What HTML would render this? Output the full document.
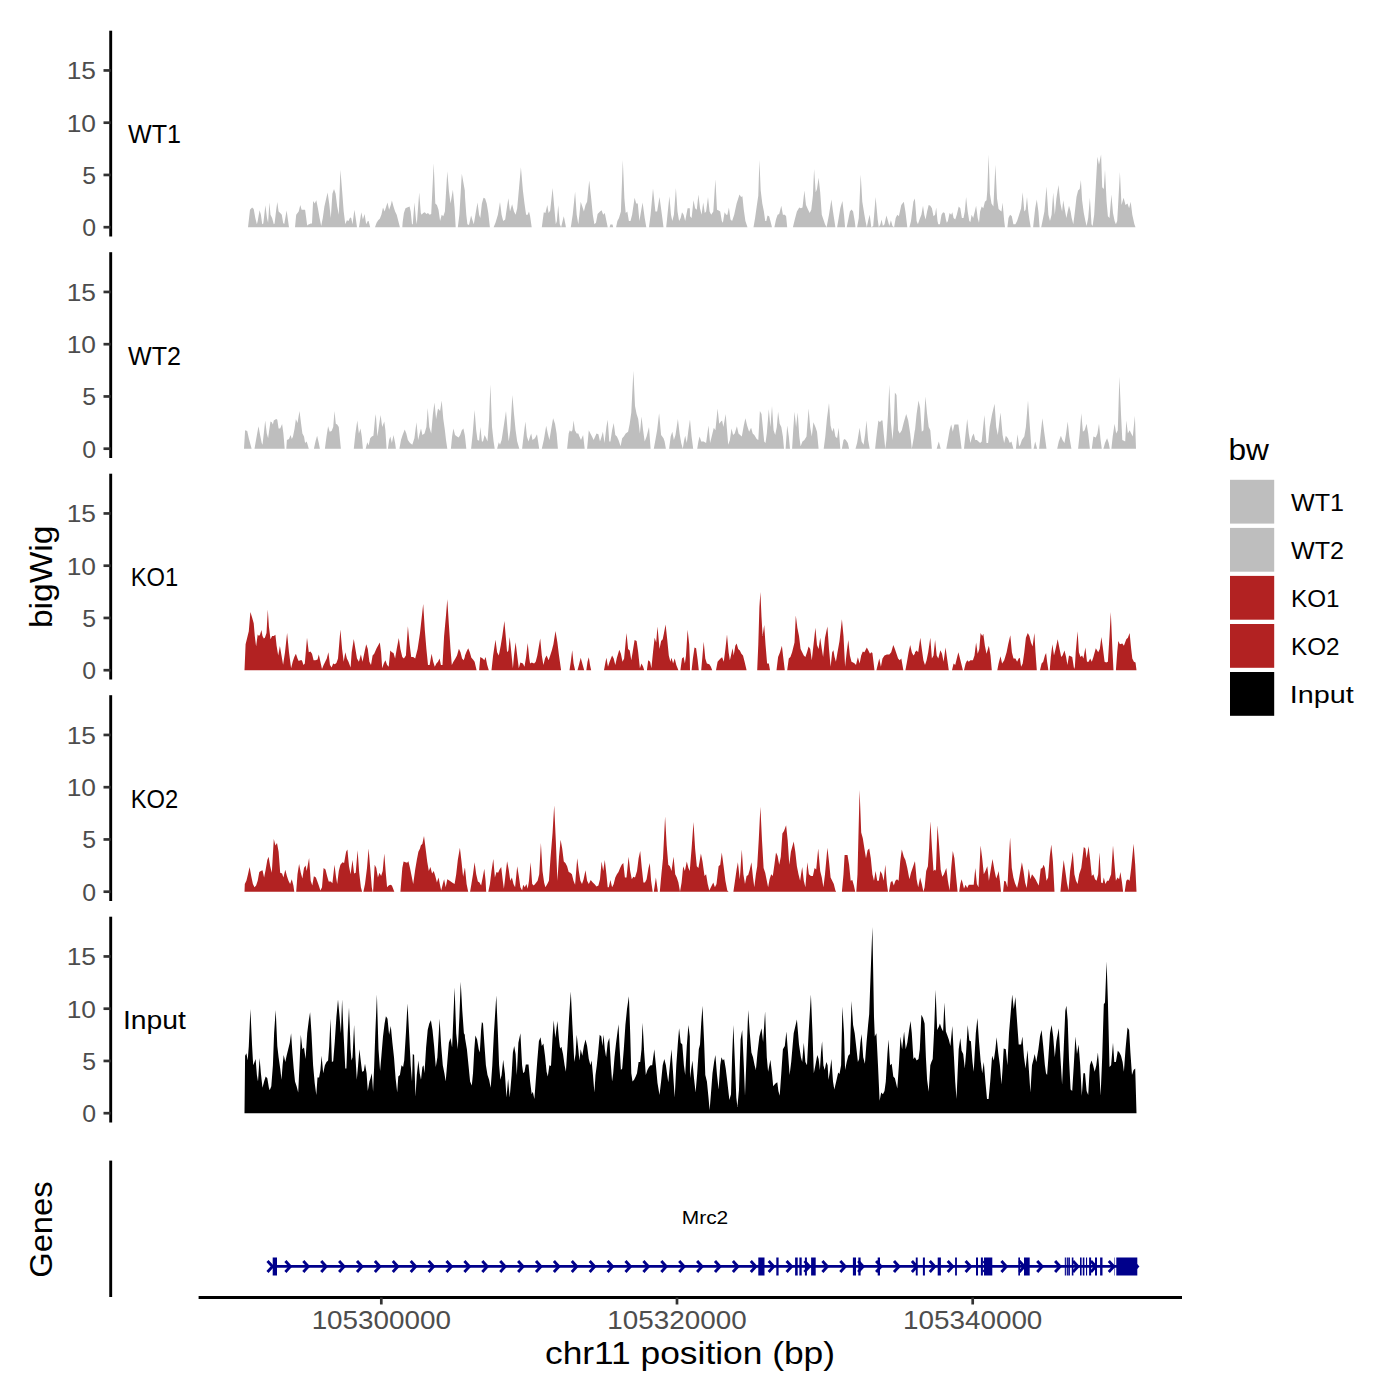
<!DOCTYPE html>
<html><head><meta charset="utf-8"><style>
html,body{margin:0;padding:0;background:#fff;width:1400px;height:1400px;overflow:hidden}
svg{display:block}
text{font-family:"Liberation Sans",sans-serif}
.tk{font-size:24.8px;fill:#4D4D4D}
.xt{font-size:25px;fill:#4D4D4D}
.lb{font-size:25px;fill:#000}
.at{font-size:31.5px;fill:#000}
.lt{font-size:30px;fill:#000}
.ll{font-size:24px;fill:#000}
.gn{font-size:18px;fill:#000}
</style></head><body>
<svg width="1400" height="1400" viewBox="0 0 1400 1400">
<rect width="1400" height="1400" fill="#fff"/>
<line x1="110.7" y1="30.7" x2="110.7" y2="236.5" stroke="#000" stroke-width="2.9"/>
<line x1="103.5" y1="227.20" x2="110.7" y2="227.20" stroke="#333" stroke-width="2.7"/>
<text x="96" y="236.00" class="tk" text-anchor="end">0</text>
<line x1="103.5" y1="174.95" x2="110.7" y2="174.95" stroke="#333" stroke-width="2.7"/>
<text x="96" y="183.75" class="tk" text-anchor="end">5</text>
<line x1="103.5" y1="122.70" x2="110.7" y2="122.70" stroke="#333" stroke-width="2.7"/>
<text x="96" y="131.50" class="tk" text-anchor="end" textLength="29.3" lengthAdjust="spacingAndGlyphs">10</text>
<line x1="103.5" y1="70.45" x2="110.7" y2="70.45" stroke="#333" stroke-width="2.7"/>
<text x="96" y="79.25" class="tk" text-anchor="end" textLength="29.3" lengthAdjust="spacingAndGlyphs">15</text>
<text x="154.5" y="143.00" class="lb" text-anchor="middle" textLength="53.0" lengthAdjust="spacingAndGlyphs">WT1</text>
<line x1="110.7" y1="252.2" x2="110.7" y2="458.0" stroke="#000" stroke-width="2.9"/>
<line x1="103.5" y1="448.70" x2="110.7" y2="448.70" stroke="#333" stroke-width="2.7"/>
<text x="96" y="457.50" class="tk" text-anchor="end">0</text>
<line x1="103.5" y1="396.45" x2="110.7" y2="396.45" stroke="#333" stroke-width="2.7"/>
<text x="96" y="405.25" class="tk" text-anchor="end">5</text>
<line x1="103.5" y1="344.20" x2="110.7" y2="344.20" stroke="#333" stroke-width="2.7"/>
<text x="96" y="353.00" class="tk" text-anchor="end" textLength="29.3" lengthAdjust="spacingAndGlyphs">10</text>
<line x1="103.5" y1="291.95" x2="110.7" y2="291.95" stroke="#333" stroke-width="2.7"/>
<text x="96" y="300.75" class="tk" text-anchor="end" textLength="29.3" lengthAdjust="spacingAndGlyphs">15</text>
<text x="154.5" y="364.50" class="lb" text-anchor="middle" textLength="53.0" lengthAdjust="spacingAndGlyphs">WT2</text>
<line x1="110.7" y1="473.7" x2="110.7" y2="679.5" stroke="#000" stroke-width="2.9"/>
<line x1="103.5" y1="670.20" x2="110.7" y2="670.20" stroke="#333" stroke-width="2.7"/>
<text x="96" y="679.00" class="tk" text-anchor="end">0</text>
<line x1="103.5" y1="617.95" x2="110.7" y2="617.95" stroke="#333" stroke-width="2.7"/>
<text x="96" y="626.75" class="tk" text-anchor="end">5</text>
<line x1="103.5" y1="565.70" x2="110.7" y2="565.70" stroke="#333" stroke-width="2.7"/>
<text x="96" y="574.50" class="tk" text-anchor="end" textLength="29.3" lengthAdjust="spacingAndGlyphs">10</text>
<line x1="103.5" y1="513.45" x2="110.7" y2="513.45" stroke="#333" stroke-width="2.7"/>
<text x="96" y="522.25" class="tk" text-anchor="end" textLength="29.3" lengthAdjust="spacingAndGlyphs">15</text>
<text x="154.5" y="586.00" class="lb" text-anchor="middle" textLength="47.5" lengthAdjust="spacingAndGlyphs">KO1</text>
<line x1="110.7" y1="695.2" x2="110.7" y2="901.0" stroke="#000" stroke-width="2.9"/>
<line x1="103.5" y1="891.70" x2="110.7" y2="891.70" stroke="#333" stroke-width="2.7"/>
<text x="96" y="900.50" class="tk" text-anchor="end">0</text>
<line x1="103.5" y1="839.45" x2="110.7" y2="839.45" stroke="#333" stroke-width="2.7"/>
<text x="96" y="848.25" class="tk" text-anchor="end">5</text>
<line x1="103.5" y1="787.20" x2="110.7" y2="787.20" stroke="#333" stroke-width="2.7"/>
<text x="96" y="796.00" class="tk" text-anchor="end" textLength="29.3" lengthAdjust="spacingAndGlyphs">10</text>
<line x1="103.5" y1="734.95" x2="110.7" y2="734.95" stroke="#333" stroke-width="2.7"/>
<text x="96" y="743.75" class="tk" text-anchor="end" textLength="29.3" lengthAdjust="spacingAndGlyphs">15</text>
<text x="154.5" y="807.50" class="lb" text-anchor="middle" textLength="47.5" lengthAdjust="spacingAndGlyphs">KO2</text>
<line x1="110.7" y1="916.7" x2="110.7" y2="1122.5" stroke="#000" stroke-width="2.9"/>
<line x1="103.5" y1="1113.20" x2="110.7" y2="1113.20" stroke="#333" stroke-width="2.7"/>
<text x="96" y="1122.00" class="tk" text-anchor="end">0</text>
<line x1="103.5" y1="1060.95" x2="110.7" y2="1060.95" stroke="#333" stroke-width="2.7"/>
<text x="96" y="1069.75" class="tk" text-anchor="end">5</text>
<line x1="103.5" y1="1008.70" x2="110.7" y2="1008.70" stroke="#333" stroke-width="2.7"/>
<text x="96" y="1017.50" class="tk" text-anchor="end" textLength="29.3" lengthAdjust="spacingAndGlyphs">10</text>
<line x1="103.5" y1="956.45" x2="110.7" y2="956.45" stroke="#333" stroke-width="2.7"/>
<text x="96" y="965.25" class="tk" text-anchor="end" textLength="29.3" lengthAdjust="spacingAndGlyphs">15</text>
<text x="154.5" y="1029.00" class="lb" text-anchor="middle" textLength="63.0" lengthAdjust="spacingAndGlyphs">Input</text>
<path d="M245.6,227.2 L245.6,227.2 L248.0,227.2 L250.0,209.8 L252.1,207.4 L253.7,209.0 L255.3,217.9 L256.9,224.3 L257.7,221.1 L259.6,210.2 L260.9,214.7 L262.2,224.3 L263.3,223.5 L265.4,205.3 L267.0,217.9 L268.1,222.7 L269.4,202.6 L270.5,214.7 L272.1,217.9 L273.8,224.3 L274.6,223.5 L276.2,209.8 L277.3,202.1 L278.6,211.4 L280.2,213.1 L281.8,214.7 L283.1,222.7 L284.2,224.3 L286.6,210.6 L287.9,219.5 L289.0,227.2 L295.0,227.2 L296.2,214.7 L298.7,211.4 L300.3,205.0 L301.6,209.8 L303.5,209.8 L305.1,209.8 L306.2,217.9 L307.2,225.9 L307.5,225.1 L310.7,223.5 L312.0,223.5 L313.1,201.0 L314.7,203.4 L316.3,200.2 L317.9,208.2 L319.6,217.9 L321.2,225.9 L322.8,217.9 L324.4,206.6 L327.6,192.5 L329.2,203.4 L330.8,217.9 L332.4,193.8 L334.0,188.9 L335.6,193.8 L337.2,206.6 L338.8,214.7 L340.4,169.7 L342.1,190.6 L343.7,211.4 L345.3,224.3 L346.9,220.3 L348.5,221.1 L350.1,217.6 L351.2,217.9 L352.5,224.3 L354.4,209.8 L355.7,217.9 L357.0,227.2 L358.9,227.2 L359.2,225.9 L361.3,212.3 L362.9,219.5 L364.6,213.9 L366.2,224.3 L367.8,221.1 L368.6,221.1 L370.2,227.2 L375.0,227.2 L376.6,222.7 L378.2,220.3 L379.8,218.7 L381.4,214.7 L383.0,207.4 L384.6,211.4 L386.2,206.6 L387.5,202.6 L389.1,209.8 L390.8,205.0 L391.9,200.5 L393.5,206.6 L395.1,211.4 L396.7,214.7 L398.3,221.1 L399.9,227.2 L402.3,227.2 L402.6,222.7 L403.9,213.1 L405.5,208.2 L407.1,207.4 L409.6,206.6 L410.7,211.4 L412.0,224.3 L412.8,224.3 L414.4,202.6 L416.0,219.5 L416.8,224.3 L419.2,192.5 L420.8,213.1 L421.6,214.7 L423.2,213.1 L424.8,212.3 L426.4,213.9 L428.0,213.1 L429.6,214.7 L431.2,213.9 L433.7,163.2 L435.3,203.4 L436.9,205.0 L438.5,209.8 L440.1,221.1 L441.7,214.7 L443.3,216.3 L444.9,211.4 L447.3,171.3 L448.9,190.6 L450.5,203.4 L452.9,189.8 L454.6,208.2 L455.7,227.2 L457.8,227.2 L459.4,214.7 L461.8,173.7 L464.8,190.6 L465.0,197.0 L466.3,214.7 L467.4,224.3 L469.0,225.1 L471.1,215.5 L472.7,221.1 L473.8,224.3 L475.4,214.7 L477.5,202.6 L479.1,214.7 L480.3,217.9 L481.9,203.4 L483.5,197.8 L485.1,198.6 L486.7,203.4 L488.3,213.1 L489.9,227.2 L493.6,227.2 L495.5,222.7 L497.9,214.7 L500.0,202.1 L501.6,214.7 L503.2,221.1 L505.2,219.5 L506.8,208.2 L508.4,198.3 L510.0,211.4 L512.1,204.2 L514.0,211.4 L515.6,214.7 L517.2,208.2 L518.8,190.6 L520.9,167.3 L522.9,190.6 L524.5,203.4 L526.1,214.7 L527.7,214.7 L529.0,211.4 L530.1,216.3 L531.7,227.2 L541.8,227.2 L543.8,212.3 L545.4,213.1 L547.3,205.0 L548.6,213.1 L550.2,210.6 L552.6,188.1 L554.2,206.6 L555.8,224.3 L556.9,221.1 L558.2,205.3 L559.8,224.3 L561.1,227.2 L562.2,222.7 L563.8,216.3 L565.4,224.3 L565.9,227.2 L570.8,227.2 L572.7,214.7 L575.1,191.8 L576.7,214.7 L578.3,224.3 L579.4,214.7 L580.7,201.8 L582.3,206.6 L583.9,211.4 L585.5,205.0 L587.1,201.8 L589.2,180.6 L591.2,198.6 L592.8,214.7 L594.4,224.3 L596.0,222.7 L597.6,213.9 L600.0,211.4 L601.6,210.2 L603.2,214.7 L604.8,213.1 L606.4,221.1 L607.7,227.2 L609.6,227.2 L610.4,224.6 L612.5,224.6 L613.2,227.2 L616.1,227.2 L617.4,221.1 L619.0,217.9 L620.9,211.4 L622.8,160.0 L624.4,198.6 L625.7,213.1 L627.3,211.4 L628.9,221.1 L630.5,221.1 L632.1,214.7 L634.6,197.8 L636.2,203.4 L637.8,203.4 L639.4,221.1 L641.0,211.4 L642.6,202.6 L644.7,217.9 L646.3,227.2 L649.0,227.2 L650.6,214.7 L653.0,188.6 L655.4,211.4 L657.1,211.4 L659.5,197.0 L661.9,214.7 L663.5,227.2 L666.2,227.2 L667.8,211.4 L669.4,196.2 L671.0,214.7 L672.3,221.1 L673.9,214.7 L675.9,188.1 L677.5,211.4 L679.1,221.1 L680.7,217.9 L682.0,212.3 L683.6,214.7 L685.2,221.1 L687.6,208.2 L689.8,208.2 L690.0,216.3 L691.6,217.9 L693.5,200.2 L695.1,208.2 L696.8,209.8 L698.4,194.6 L700.0,208.2 L701.6,214.7 L703.2,202.6 L704.8,213.1 L706.1,211.4 L708.0,197.0 L709.6,211.4 L711.2,214.7 L713.3,211.4 L715.4,179.3 L717.0,209.8 L718.6,210.6 L720.2,211.4 L721.8,221.1 L722.9,222.7 L724.6,212.3 L726.2,214.7 L727.4,214.7 L728.9,207.4 L730.5,219.5 L732.1,221.1 L734.2,214.7 L736.6,203.4 L739.5,194.6 L741.1,197.0 L742.4,196.2 L743.8,209.8 L745.4,221.1 L747.5,227.2 L753.5,227.2 L755.1,217.9 L756.7,206.6 L758.3,195.4 L759.4,160.0 L760.7,190.6 L762.3,203.4 L763.9,211.4 L765.2,221.1 L766.3,221.1 L767.5,215.5 L769.1,216.3 L770.4,221.1 L772.0,227.2 L774.4,227.2 L776.0,219.5 L777.6,214.7 L779.2,213.9 L781.3,205.8 L782.9,214.7 L784.8,214.7 L786.1,216.3 L787.2,227.2 L792.9,227.2 L794.8,219.5 L796.9,211.4 L799.3,207.4 L800.9,208.2 L802.5,207.4 L804.4,190.6 L806.0,205.0 L808.1,209.8 L809.7,213.1 L811.3,209.8 L812.9,195.4 L814.1,168.9 L815.7,192.2 L817.0,188.9 L818.6,177.7 L820.2,192.2 L821.8,214.7 L823.4,219.5 L825.0,224.3 L826.6,227.2 L829.0,214.7 L831.4,199.4 L833.0,211.4 L835.4,227.2 L837.1,227.2 L838.7,217.9 L840.3,208.2 L842.4,201.0 L844.0,214.7 L845.1,227.2 L846.7,227.2 L848.3,219.5 L849.9,211.4 L851.5,209.5 L853.1,211.4 L854.7,221.1 L855.5,227.2 L857.1,227.2 L858.8,217.9 L860.7,174.5 L862.3,201.8 L864.4,214.7 L865.5,221.1 L866.8,227.2 L868.1,221.1 L869.7,214.7 L871.3,227.2 L873.2,225.9 L875.6,197.0 L877.7,219.5 L878.8,227.2 L880.4,224.3 L881.6,219.5 L882.9,225.9 L884.5,224.3 L886.4,215.5 L888.0,221.1 L889.3,225.9 L890.9,220.3 L892.5,225.9 L894.1,227.2 L895.7,217.9 L897.3,214.7 L898.9,216.3 L901.3,205.0 L903.8,201.8 L905.4,211.4 L907.3,227.2 L909.4,227.2 L911.0,221.1 L913.4,201.8 L914.8,198.6 L915.0,200.2 L916.6,221.1 L917.9,224.3 L919.5,219.5 L921.4,214.7 L923.0,205.8 L924.3,214.7 L925.6,219.5 L927.1,211.4 L928.7,205.0 L930.3,205.8 L931.9,208.2 L933.5,216.3 L935.1,214.7 L936.2,207.4 L937.5,221.1 L938.3,224.3 L939.9,224.3 L941.5,214.7 L943.1,212.3 L944.7,213.1 L945.9,219.5 L946.8,222.7 L947.9,221.1 L949.6,213.1 L951.2,214.7 L952.3,212.3 L953.6,217.9 L955.2,219.5 L956.8,214.7 L958.7,206.6 L960.3,208.2 L961.9,217.9 L963.5,217.9 L964.8,211.4 L966.1,197.0 L967.7,211.4 L969.3,221.1 L970.4,221.9 L971.6,214.7 L973.2,217.9 L974.8,211.4 L976.1,205.8 L977.7,217.9 L979.0,222.7 L980.1,211.4 L981.7,206.6 L983.3,208.2 L984.9,201.8 L986.5,200.2 L987.3,190.6 L988.6,154.4 L989.9,193.8 L991.5,203.4 L993.4,206.6 L995.4,164.8 L997.0,198.6 L998.6,209.0 L1000.2,210.6 L1001.5,211.4 L1002.6,202.6 L1004.2,221.1 L1005.0,227.2 L1007.4,227.2 L1008.5,217.9 L1010.1,214.7 L1011.8,216.3 L1013.4,224.3 L1015.4,224.3 L1017.1,221.1 L1019.1,214.7 L1021.1,208.2 L1022.7,192.2 L1024.3,211.4 L1025.6,209.8 L1027.0,197.0 L1028.3,211.4 L1029.4,219.5 L1030.7,227.2 L1033.1,227.2 L1035.2,208.2 L1036.8,199.4 L1038.4,211.4 L1039.6,227.2 L1041.2,227.2 L1042.8,219.5 L1044.4,211.4 L1046.5,186.5 L1048.4,214.7 L1050.0,221.1 L1051.6,214.7 L1053.2,192.5 L1054.8,214.7 L1056.4,198.6 L1058.5,184.9 L1060.4,203.4 L1062.1,211.4 L1063.2,200.2 L1064.8,209.8 L1066.4,217.9 L1067.7,211.4 L1069.0,205.8 L1070.6,211.4 L1071.7,217.9 L1073.3,224.3 L1074.9,211.4 L1076.5,197.0 L1078.1,190.6 L1079.7,188.9 L1080.9,180.1 L1082.1,200.2 L1083.8,213.1 L1085.4,221.1 L1086.6,225.9 L1088.2,217.9 L1089.9,197.8 L1091.5,224.3 L1092.6,225.9 L1094.2,214.7 L1095.8,185.7 L1097.4,156.8 L1099.0,164.8 L1101.1,154.4 L1102.2,187.3 L1103.8,188.9 L1105.0,169.7 L1106.6,201.8 L1107.9,216.3 L1109.5,217.9 L1111.4,194.6 L1113.0,213.1 L1114.6,221.1 L1115.9,224.3 L1117.2,221.1 L1118.3,201.8 L1119.9,172.1 L1121.5,205.0 L1123.6,197.8 L1125.5,205.0 L1127.5,203.4 L1129.1,208.2 L1130.7,201.8 L1132.3,214.7 L1134.4,224.3 L1135.5,227.2 L1135.5,227.2 Z" fill="#BEBEBE"/>
<path d="M244.0,448.7 L244.0,448.7 L245.1,430.2 L247.2,431.0 L248.8,438.3 L251.6,448.7 L254.5,448.7 L256.9,435.0 L258.5,426.2 L260.1,435.0 L261.7,443.1 L262.5,444.7 L263.8,433.4 L265.2,420.6 L266.8,433.4 L268.1,438.3 L269.2,430.2 L270.5,421.4 L271.8,422.2 L272.9,424.6 L273.8,420.6 L275.0,419.8 L276.2,419.0 L277.3,419.8 L278.6,428.6 L280.2,428.6 L282.1,424.1 L283.4,433.4 L284.7,448.7 L286.3,448.7 L286.9,439.9 L289.0,439.1 L290.6,435.0 L291.8,439.1 L293.0,436.6 L294.6,428.6 L295.9,419.0 L297.5,423.0 L299.5,410.9 L301.1,423.8 L302.4,433.4 L304.0,436.6 L305.1,443.1 L306.7,441.5 L308.8,448.7 L313.9,448.7 L315.5,441.5 L317.1,435.8 L318.8,443.1 L319.9,448.7 L324.9,448.7 L326.5,436.6 L328.1,426.2 L329.7,431.8 L331.6,431.0 L333.2,427.0 L334.5,410.9 L335.8,423.8 L337.2,424.6 L338.8,427.0 L340.0,439.9 L340.9,448.7 L353.8,448.7 L355.4,433.4 L357.3,420.6 L358.9,433.4 L360.5,428.6 L361.8,436.6 L362.9,448.7 L365.7,448.7 L367.3,442.3 L368.6,445.5 L370.2,438.3 L371.8,436.6 L373.4,435.8 L375.0,419.0 L375.8,414.1 L377.4,436.6 L379.0,425.4 L380.6,414.9 L382.2,427.0 L384.3,421.4 L385.4,430.2 L386.6,448.7 L387.9,448.7 L389.1,439.9 L390.3,436.6 L391.9,443.1 L393.5,435.0 L395.1,443.1 L395.9,448.7 L399.4,448.7 L401.0,439.9 L402.6,435.0 L404.7,429.4 L406.3,433.4 L407.9,439.9 L410.0,443.1 L412.3,444.7 L414.4,438.3 L416.5,422.2 L418.1,439.9 L419.7,433.4 L421.0,428.6 L422.4,435.0 L424.5,433.4 L426.4,427.0 L427.7,408.0 L429.3,427.0 L431.2,433.4 L432.9,414.1 L434.5,402.6 L436.1,419.0 L438.0,408.5 L440.1,410.9 L441.7,400.5 L443.3,419.0 L444.9,430.2 L446.0,439.9 L447.3,448.7 L450.9,448.7 L452.1,436.6 L453.4,428.6 L455.0,435.0 L457.0,436.6 L458.6,437.4 L460.2,435.0 L461.8,430.2 L463.4,428.6 L464.8,435.0 L465.0,436.6 L466.3,448.7 L471.1,448.7 L472.7,433.4 L474.6,410.1 L476.2,430.2 L477.5,439.9 L479.1,440.7 L480.4,427.0 L481.9,441.5 L483.0,441.5 L484.6,435.0 L486.2,438.3 L487.5,441.5 L489.1,419.0 L490.4,384.4 L492.0,427.0 L493.6,441.5 L494.7,448.7 L497.1,448.7 L498.8,442.3 L500.0,444.7 L501.6,439.9 L503.6,427.0 L506.0,410.9 L507.6,430.2 L508.7,441.5 L510.3,430.2 L512.4,394.9 L514.0,414.1 L515.6,430.2 L517.2,441.5 L519.3,448.7 L522.1,448.7 L523.7,435.0 L525.4,421.4 L526.9,436.6 L528.5,441.5 L530.1,436.6 L531.2,433.4 L532.5,439.9 L534.9,438.3 L537.0,434.2 L538.1,441.5 L539.2,448.7 L541.8,448.7 L543.8,439.9 L546.2,425.7 L547.8,433.4 L549.4,439.9 L551.0,430.2 L553.1,418.2 L555.0,423.8 L556.6,433.4 L557.9,448.7 L567.1,448.7 L568.7,433.4 L569.8,430.2 L571.1,431.8 L572.4,430.2 L573.6,420.6 L574.9,430.2 L576.7,433.4 L578.3,433.4 L579.4,436.6 L581.0,439.9 L583.1,435.0 L584.7,448.7 L587.1,448.7 L588.8,430.2 L590.4,433.4 L592.0,436.6 L593.6,439.9 L595.2,436.6 L596.5,433.4 L598.4,434.2 L600.0,441.5 L601.6,436.6 L602.9,431.8 L604.5,443.1 L606.4,427.0 L607.7,419.8 L609.3,441.5 L610.4,441.5 L612.1,430.2 L613.7,423.0 L615.3,435.0 L616.9,436.6 L618.5,439.9 L620.6,446.3 L622.2,438.3 L623.8,436.6 L625.7,433.4 L628.1,431.8 L629.7,423.8 L631.3,412.5 L633.4,370.8 L635.0,406.1 L636.6,414.1 L638.2,419.0 L639.9,433.4 L641.5,416.6 L643.1,430.2 L644.7,441.5 L646.6,436.6 L649.0,427.0 L650.6,448.7 L653.8,448.7 L655.4,439.9 L657.1,430.2 L659.1,413.3 L661.1,435.0 L663.5,438.3 L664.6,441.5 L665.9,448.7 L669.1,448.7 L670.7,436.6 L672.3,431.8 L673.9,439.9 L675.5,435.0 L677.9,419.0 L679.6,433.4 L681.2,443.1 L682.8,448.7 L683.9,441.5 L685.2,435.8 L686.8,443.1 L688.4,430.2 L689.8,420.6 L690.0,419.8 L691.6,436.6 L693.2,448.7 L697.2,448.7 L698.4,441.5 L699.6,436.6 L701.2,441.5 L703.7,441.5 L706.1,443.1 L708.5,425.4 L710.1,443.1 L711.7,436.6 L713.8,427.8 L715.4,430.2 L717.6,408.5 L719.2,423.8 L720.9,421.4 L722.1,420.6 L723.4,427.0 L725.7,414.1 L727.3,433.4 L728.2,444.7 L729.9,439.9 L731.5,428.6 L733.1,435.0 L734.7,433.4 L736.9,426.2 L738.5,433.4 L740.1,435.0 L741.8,436.6 L743.8,425.4 L745.4,418.2 L747.1,425.4 L749.1,431.8 L751.1,427.8 L752.7,433.4 L754.3,435.0 L756.7,439.1 L758.3,439.9 L759.9,410.9 L761.5,414.1 L763.1,430.2 L764.2,441.5 L765.5,443.1 L766.8,433.4 L768.8,409.3 L770.4,427.0 L772.0,406.1 L773.6,430.2 L775.2,435.0 L776.8,427.0 L778.1,411.7 L779.7,423.8 L781.3,427.0 L782.9,436.6 L784.0,448.7 L785.6,448.7 L787.2,425.4 L788.8,436.6 L790.0,448.7 L792.1,448.7 L793.2,430.2 L794.5,411.7 L796.1,427.0 L797.7,412.5 L799.3,436.6 L800.6,446.3 L802.5,441.5 L804.4,439.9 L806.5,436.6 L808.6,408.5 L810.2,427.0 L811.8,436.6 L813.4,422.2 L815.4,427.0 L817.0,431.8 L818.6,448.7 L823.7,448.7 L825.3,436.6 L826.9,419.0 L829.0,402.9 L830.6,425.4 L832.2,431.8 L833.8,427.8 L835.4,436.6 L837.1,438.3 L838.7,427.8 L840.3,448.7 L841.9,448.7 L843.5,439.9 L844.6,439.1 L845.9,439.9 L847.8,443.1 L849.1,448.7 L855.5,448.7 L857.1,443.1 L859.6,427.8 L861.6,441.5 L863.6,444.7 L865.2,433.4 L866.5,420.6 L868.1,439.9 L869.7,448.7 L875.1,448.7 L876.8,433.4 L878.4,420.6 L880.0,422.2 L881.2,420.6 L882.5,420.6 L883.7,433.4 L885.3,448.7 L886.4,439.9 L888.0,414.1 L889.3,384.4 L890.9,422.2 L892.5,439.9 L893.8,423.8 L894.9,392.4 L896.5,394.9 L898.1,430.2 L899.7,433.4 L901.8,430.2 L903.8,422.2 L906.2,414.1 L908.2,420.6 L910.2,433.4 L911.8,448.7 L913.7,438.3 L914.8,430.2 L915.0,430.2 L916.6,414.1 L918.5,400.5 L920.1,407.7 L921.8,431.8 L923.4,430.2 L925.4,396.5 L927.1,414.1 L928.7,427.0 L930.3,430.2 L931.9,448.7 L936.7,448.7 L938.8,441.5 L940.7,448.7 L946.3,448.7 L947.9,439.9 L949.6,430.2 L951.2,424.6 L952.8,431.8 L954.4,424.6 L958.4,424.6 L960.0,436.6 L961.6,448.7 L964.0,448.7 L965.6,433.4 L967.2,419.0 L968.8,433.4 L970.4,443.1 L972.1,436.6 L973.7,433.4 L975.3,439.9 L976.9,439.9 L978.5,441.5 L980.1,443.1 L981.7,441.5 L984.4,414.9 L986.5,443.1 L988.1,443.1 L989.7,427.0 L992.1,414.1 L994.6,403.7 L996.2,427.0 L997.8,435.0 L1000.5,412.5 L1002.6,435.0 L1004.2,443.1 L1005.8,435.8 L1007.9,438.3 L1009.8,443.1 L1011.4,441.5 L1013.4,448.7 L1015.9,448.7 L1017.5,434.2 L1019.1,446.3 L1020.3,444.7 L1021.9,439.9 L1024.3,436.6 L1025.9,427.0 L1028.0,400.5 L1029.9,427.0 L1031.5,448.7 L1033.6,448.7 L1035.2,441.5 L1037.1,448.7 L1039.1,448.7 L1040.7,433.4 L1042.4,418.2 L1044.4,433.4 L1046.5,448.7 L1057.2,448.7 L1058.8,441.5 L1060.9,435.8 L1062.5,439.9 L1064.5,443.1 L1066.1,433.4 L1067.7,421.4 L1069.3,436.6 L1071.4,448.7 L1078.1,448.7 L1079.7,433.4 L1081.3,413.3 L1082.9,431.8 L1084.6,430.2 L1086.6,423.8 L1088.2,433.4 L1089.9,448.7 L1091.8,448.7 L1093.4,436.6 L1095.8,437.4 L1097.4,433.4 L1099.0,423.8 L1100.6,439.9 L1101.8,448.7 L1103.4,448.7 L1105.0,443.1 L1107.1,438.3 L1108.7,443.1 L1109.8,448.7 L1111.4,448.7 L1112.7,436.6 L1114.6,423.8 L1116.2,433.4 L1117.8,430.2 L1119.4,376.4 L1121.0,414.1 L1122.3,439.9 L1123.9,440.7 L1125.2,441.5 L1126.3,420.6 L1127.9,433.4 L1129.6,430.2 L1131.2,433.4 L1132.8,436.6 L1134.9,415.8 L1136.0,448.7 L1136.0,448.7 Z" fill="#BEBEBE"/>
<path d="M244.5,670.2 L244.5,670.2 L245.6,644.2 L247.2,637.7 L248.8,631.3 L250.4,612.0 L252.1,617.6 L253.7,623.3 L254.8,636.1 L256.1,646.6 L257.7,634.5 L259.0,636.1 L260.1,634.5 L261.4,630.0 L262.5,636.1 L263.8,638.5 L264.9,637.7 L266.5,632.9 L267.8,609.6 L268.9,626.5 L270.5,639.3 L272.1,636.1 L273.8,636.1 L275.4,634.8 L276.6,645.8 L278.2,655.4 L279.9,646.1 L281.5,655.4 L283.1,664.7 L285.0,652.2 L287.1,632.9 L289.0,652.2 L291.1,668.3 L292.7,661.8 L294.3,657.0 L295.9,653.8 L297.5,658.6 L298.7,661.0 L300.3,660.2 L301.9,660.2 L303.5,665.1 L304.8,663.5 L307.0,637.7 L308.8,652.2 L310.4,651.4 L312.0,653.8 L313.6,660.2 L315.5,660.2 L317.5,659.4 L318.8,654.6 L320.4,661.8 L322.0,669.1 L323.6,665.1 L325.2,661.8 L326.8,658.6 L328.4,652.2 L330.0,665.1 L331.6,667.5 L333.2,663.5 L334.8,664.3 L336.4,663.1 L338.0,658.6 L340.4,629.4 L342.1,649.0 L343.7,661.8 L345.3,652.2 L346.9,658.6 L348.5,661.8 L350.6,667.5 L351.7,652.2 L353.8,639.0 L355.4,649.0 L357.0,658.6 L358.9,661.8 L360.9,654.6 L362.5,661.8 L363.8,655.4 L366.2,644.2 L367.8,649.0 L369.4,661.8 L371.0,665.1 L372.6,655.4 L374.2,653.8 L376.6,648.2 L379.8,642.6 L381.1,652.2 L382.2,668.3 L383.8,663.5 L385.4,660.2 L387.1,665.1 L388.7,666.7 L390.3,650.6 L391.9,652.2 L393.5,653.0 L395.1,658.6 L396.7,649.0 L398.8,638.1 L400.4,649.0 L402.3,657.0 L403.9,658.6 L405.9,655.4 L407.9,626.2 L409.6,644.2 L411.2,657.0 L413.2,657.0 L415.2,658.6 L417.6,649.0 L420.0,632.9 L423.2,604.0 L424.8,629.7 L426.4,649.0 L428.0,665.1 L429.6,665.1 L431.6,653.8 L433.2,661.8 L434.8,666.7 L436.4,663.5 L438.0,661.8 L439.6,658.6 L440.9,665.1 L442.5,665.1 L444.1,636.1 L446.0,615.2 L447.3,599.2 L448.9,624.9 L450.5,649.0 L451.8,665.1 L453.4,661.8 L455.4,658.6 L457.0,655.4 L458.9,648.7 L460.5,652.2 L462.1,658.6 L463.7,660.2 L464.8,657.0 L465.0,655.4 L466.6,651.4 L468.2,648.2 L469.8,652.2 L471.4,657.8 L473.0,659.4 L474.6,661.8 L476.6,670.2 L479.1,670.2 L480.3,657.0 L482.7,658.6 L484.3,660.2 L485.6,657.0 L487.2,665.1 L488.8,670.2 L491.5,670.2 L493.1,655.4 L495.5,639.7 L497.1,652.2 L498.8,655.4 L500.7,645.8 L502.3,636.1 L504.4,620.9 L506.0,639.3 L507.1,652.2 L508.4,650.6 L509.7,636.9 L511.3,652.2 L512.9,668.3 L514.0,655.4 L515.6,642.2 L517.2,655.4 L518.8,668.3 L520.4,662.6 L522.9,663.5 L524.5,666.7 L526.1,657.0 L527.7,642.9 L529.3,658.6 L530.1,663.5 L531.7,662.6 L534.1,663.5 L535.7,661.8 L537.3,655.4 L540.2,638.5 L541.8,655.4 L543.4,665.1 L545.0,658.6 L546.6,655.4 L548.6,660.2 L550.2,655.4 L551.8,650.6 L553.4,644.2 L555.5,631.0 L557.4,642.6 L559.0,655.4 L561.1,670.2 L569.5,670.2 L570.8,661.8 L572.2,650.3 L573.6,663.5 L575.1,670.2 L577.5,670.2 L579.1,664.3 L580.7,657.8 L582.3,663.5 L584.2,670.2 L586.3,670.2 L587.5,661.8 L588.8,657.3 L590.0,665.1 L591.2,670.2 L604.0,670.2 L605.1,664.3 L606.4,657.8 L608.0,666.7 L609.6,661.8 L612.1,655.4 L613.7,658.6 L615.3,665.1 L616.9,657.8 L619.3,649.8 L620.9,653.8 L622.5,661.8 L624.1,658.6 L626.5,632.9 L628.1,649.0 L629.7,650.6 L631.3,660.2 L632.9,650.6 L634.6,640.1 L636.6,641.0 L638.2,652.2 L639.9,668.3 L641.5,663.5 L643.1,666.7 L644.2,670.2 L646.9,670.2 L648.2,660.2 L650.1,661.8 L651.4,668.3 L653.0,652.2 L654.6,637.7 L656.2,642.6 L657.5,626.5 L659.5,649.0 L661.1,641.0 L662.7,639.3 L664.0,632.9 L665.6,624.6 L667.2,639.3 L668.8,655.4 L670.4,661.8 L671.5,657.8 L673.1,663.5 L674.7,658.6 L676.3,665.1 L678.4,670.2 L680.4,670.2 L682.0,658.6 L683.6,657.0 L684.9,663.5 L686.0,655.4 L687.6,629.7 L689.2,644.2 L689.8,658.6 L690.0,670.2 L690.0,670.2 L691.6,670.2 L692.9,658.6 L694.5,647.4 L696.1,648.2 L697.7,660.2 L698.8,670.2 L701.2,670.2 L702.5,655.4 L703.7,641.8 L705.3,658.6 L706.9,663.5 L709.3,664.3 L710.9,666.7 L712.2,670.2 L716.0,670.2 L717.6,661.8 L718.9,660.2 L720.5,658.6 L722.1,657.3 L723.8,661.8 L725.4,649.0 L727.0,634.5 L728.6,652.2 L729.9,660.2 L731.0,655.4 L732.6,648.2 L733.7,655.4 L735.3,645.8 L736.6,643.4 L738.2,649.0 L739.8,650.6 L741.4,653.8 L743.0,655.4 L744.6,661.8 L746.6,670.2 L757.2,670.2 L758.3,644.2 L759.4,607.2 L760.4,591.9 L761.5,616.8 L762.6,636.1 L764.2,624.9 L765.5,644.2 L767.1,663.5 L768.8,663.5 L770.0,670.2 L776.5,670.2 L778.1,657.0 L780.0,652.2 L781.9,645.8 L783.2,657.0 L784.8,670.2 L787.2,670.2 L788.8,658.6 L790.4,657.0 L792.1,652.2 L794.5,642.6 L795.8,615.6 L797.4,628.1 L799.0,636.1 L800.6,649.0 L802.2,652.2 L803.8,655.4 L805.4,657.0 L807.0,652.2 L808.6,646.6 L810.2,649.0 L811.8,660.2 L813.4,645.8 L815.4,627.8 L817.0,645.0 L818.6,649.0 L820.2,637.7 L821.8,649.0 L823.1,657.0 L825.0,637.7 L827.4,626.5 L829.0,649.0 L830.6,666.7 L832.2,652.2 L833.4,650.3 L834.6,657.0 L835.9,661.8 L837.5,652.2 L839.5,641.0 L841.9,619.3 L843.5,636.1 L845.1,666.7 L846.7,652.2 L848.3,640.1 L849.9,655.4 L851.5,661.8 L853.1,662.6 L854.7,663.5 L856.0,665.1 L857.1,660.2 L857.9,657.3 L859.6,663.5 L861.2,655.4 L862.8,651.4 L864.4,652.2 L866.8,647.4 L868.4,650.6 L870.0,653.8 L871.3,652.2 L872.4,653.0 L874.5,670.2 L876.4,670.2 L878.0,663.5 L879.3,658.6 L880.9,666.7 L882.5,658.6 L884.5,655.4 L886.9,654.6 L889.3,654.6 L891.2,652.2 L893.3,645.0 L894.9,649.0 L896.5,653.8 L898.1,658.6 L899.7,660.2 L901.3,658.6 L903.4,670.2 L905.4,670.2 L907.0,661.8 L908.6,652.2 L910.2,645.0 L911.8,652.2 L913.4,655.4 L914.8,653.8 L915.0,652.2 L916.6,650.6 L918.2,652.2 L920.3,637.7 L921.8,649.0 L923.4,660.2 L925.0,665.1 L926.6,660.2 L928.2,652.2 L930.3,637.7 L931.9,658.6 L933.5,655.4 L935.1,640.1 L936.7,655.4 L938.3,658.6 L940.4,650.3 L942.0,653.8 L943.6,661.8 L945.5,647.4 L947.1,658.6 L948.8,670.2 L952.0,670.2 L953.6,663.5 L955.2,665.1 L956.8,658.6 L958.4,652.2 L960.0,658.6 L961.6,665.1 L962.9,670.2 L964.0,670.2 L965.6,663.5 L967.2,660.2 L968.8,661.8 L970.4,660.2 L972.9,660.2 L974.5,655.4 L976.1,642.6 L977.7,653.8 L979.3,649.0 L980.6,632.9 L982.2,636.1 L983.3,633.7 L984.9,645.8 L986.5,653.8 L988.9,645.8 L990.5,655.4 L991.8,670.2 L997.3,670.2 L998.6,663.5 L1000.5,656.2 L1002.1,663.5 L1004.2,660.2 L1006.6,652.2 L1008.2,644.2 L1010.3,635.3 L1011.9,652.2 L1013.5,658.6 L1015.4,658.6 L1017.1,661.8 L1018.7,658.6 L1019.8,657.8 L1021.1,666.7 L1022.7,663.5 L1024.3,652.2 L1025.9,637.7 L1027.8,632.9 L1029.4,636.1 L1031.0,642.6 L1032.6,646.6 L1034.4,632.9 L1035.5,652.2 L1036.8,670.2 L1040.0,670.2 L1041.6,663.5 L1043.2,661.8 L1044.9,655.4 L1046.1,653.0 L1047.1,661.8 L1048.4,670.2 L1049.7,670.2 L1050.8,657.0 L1052.4,644.2 L1054.0,655.4 L1055.6,649.0 L1057.7,639.3 L1059.6,649.0 L1061.2,657.0 L1062.5,655.4 L1064.5,650.6 L1066.1,657.0 L1067.4,665.1 L1069.0,655.4 L1070.6,656.2 L1072.2,657.0 L1074.1,669.1 L1074.9,666.7 L1075.7,652.2 L1077.6,631.3 L1078.9,652.2 L1080.5,657.0 L1082.1,655.4 L1083.4,658.6 L1085.4,647.4 L1087.0,661.8 L1088.6,661.8 L1090.2,658.6 L1091.8,661.8 L1093.4,657.0 L1095.8,648.2 L1098.2,652.2 L1099.8,649.0 L1101.4,636.9 L1103.0,649.0 L1104.6,661.8 L1106.2,662.6 L1107.9,661.8 L1109.5,636.1 L1110.8,612.0 L1112.4,649.0 L1113.5,670.2 L1115.9,670.2 L1117.2,652.2 L1118.3,641.0 L1119.9,644.2 L1122.3,643.4 L1123.9,645.8 L1126.3,639.3 L1127.9,637.7 L1129.6,632.9 L1131.2,649.0 L1132.3,658.6 L1133.9,661.8 L1135.5,662.6 L1136.5,670.2 L1136.5,670.2 Z" fill="#B22222"/>
<path d="M244.5,891.7 L244.5,891.7 L244.8,884.0 L246.4,880.8 L248.0,874.3 L249.6,867.1 L251.2,876.0 L252.9,884.0 L254.5,887.2 L256.1,885.6 L257.7,880.8 L259.3,871.9 L260.9,871.1 L262.5,870.3 L264.1,877.6 L265.7,869.5 L267.3,859.9 L268.6,856.7 L270.2,866.3 L271.8,872.7 L273.8,839.0 L275.4,845.4 L277.0,843.0 L278.6,851.8 L280.2,872.7 L282.1,873.5 L283.4,877.6 L285.3,869.8 L286.9,876.0 L288.5,880.8 L290.1,884.0 L291.8,879.2 L293.4,885.6 L294.3,891.7 L296.2,891.7 L297.5,874.3 L299.1,863.9 L300.8,872.7 L302.4,878.4 L304.0,867.9 L305.6,865.5 L306.7,871.1 L309.1,858.0 L310.7,880.8 L312.3,885.6 L313.9,876.3 L315.9,877.6 L317.1,880.8 L318.8,885.6 L320.4,890.4 L322.0,887.2 L323.6,867.9 L325.5,869.5 L327.1,876.0 L328.7,881.6 L330.8,881.6 L332.4,883.2 L334.5,864.7 L336.1,877.6 L337.2,884.0 L338.8,871.1 L340.4,864.7 L342.5,862.3 L344.1,863.1 L346.1,851.8 L347.4,849.4 L349.0,866.3 L350.6,874.3 L352.5,859.9 L354.1,873.5 L355.7,872.7 L357.6,850.2 L359.2,872.7 L360.9,887.2 L362.1,891.7 L363.4,891.7 L365.0,884.0 L367.0,867.9 L368.6,848.6 L370.2,867.9 L371.8,887.2 L372.6,891.7 L373.1,891.7 L374.7,864.7 L376.3,867.9 L377.9,877.6 L379.5,872.7 L381.1,876.0 L382.7,871.1 L384.3,853.5 L385.9,874.3 L387.1,887.2 L388.7,885.6 L390.3,884.8 L391.9,885.6 L394.3,891.7 L400.4,891.7 L402.3,867.9 L403.6,861.5 L405.5,862.3 L407.1,862.8 L408.4,861.2 L410.0,867.9 L411.6,876.0 L413.2,884.0 L415.2,869.5 L416.8,859.9 L418.4,851.8 L420.0,848.6 L420.8,845.4 L422.4,843.8 L424.0,836.1 L425.6,848.6 L427.2,861.5 L428.8,871.1 L430.4,867.1 L432.1,873.5 L433.7,871.1 L435.3,876.0 L436.9,882.4 L438.5,877.6 L440.1,885.6 L441.2,890.4 L442.8,884.0 L444.1,879.2 L445.7,887.2 L447.3,879.2 L449.7,880.8 L452.1,882.4 L454.6,884.0 L456.2,874.3 L457.8,859.9 L459.9,847.8 L461.5,861.5 L463.1,876.8 L464.8,867.9 L465.0,867.9 L466.6,884.0 L468.2,891.7 L470.1,891.7 L471.4,884.0 L473.0,874.3 L474.6,862.3 L476.2,874.3 L477.9,881.6 L479.5,882.4 L481.1,885.6 L482.7,877.6 L484.3,868.7 L485.6,880.8 L486.2,891.7 L488.3,891.7 L489.9,884.0 L491.5,871.1 L493.3,859.1 L494.9,877.6 L496.5,871.9 L498.1,872.7 L499.6,869.5 L501.2,867.1 L502.8,880.8 L503.9,888.8 L505.2,877.6 L507.1,861.2 L508.7,869.5 L510.3,880.8 L511.9,877.6 L513.5,884.0 L515.1,887.2 L517.2,866.3 L518.8,876.0 L520.4,887.2 L522.1,890.4 L523.2,884.8 L524.8,887.2 L526.4,884.0 L527.7,888.8 L529.0,880.8 L530.6,862.3 L532.2,884.0 L533.8,885.6 L535.7,883.2 L537.6,880.8 L539.2,874.3 L540.9,843.0 L542.5,871.1 L544.1,882.4 L545.4,887.2 L547.3,884.0 L548.9,880.8 L550.5,858.3 L552.6,832.6 L554.2,805.2 L555.8,840.6 L557.4,880.8 L559.0,856.7 L560.6,839.8 L562.2,848.6 L563.8,861.5 L565.4,863.1 L567.1,866.3 L568.7,871.9 L570.3,872.7 L571.9,874.3 L573.5,880.8 L575.1,884.8 L577.2,858.3 L578.8,871.1 L580.4,880.8 L582.0,884.0 L583.6,879.2 L585.5,870.3 L587.1,880.8 L588.8,884.0 L590.7,880.0 L592.8,882.4 L594.4,884.0 L596.5,886.4 L598.4,885.6 L600.0,879.2 L601.6,861.5 L603.2,871.1 L604.8,859.9 L606.4,874.3 L607.7,887.2 L608.8,887.2 L610.4,880.0 L612.1,887.2 L613.7,884.0 L615.3,877.6 L616.9,874.3 L618.5,871.9 L620.1,867.9 L621.7,864.7 L623.3,863.1 L624.9,877.6 L626.5,877.6 L628.6,856.7 L630.2,871.1 L631.8,879.2 L633.4,876.8 L635.0,877.6 L637.0,871.1 L638.6,858.3 L640.2,851.0 L641.8,867.9 L643.4,882.4 L645.0,882.4 L646.6,879.2 L648.5,867.9 L649.8,863.1 L651.1,880.8 L652.7,891.7 L653.8,891.7 L655.9,877.6 L657.9,891.7 L659.8,891.7 L661.4,874.3 L663.0,858.3 L665.1,816.5 L666.7,845.4 L668.3,864.7 L669.9,866.3 L671.5,871.1 L673.6,856.7 L675.2,874.3 L676.8,877.6 L678.4,882.4 L680.0,891.7 L681.6,882.4 L683.2,866.3 L684.9,871.1 L686.8,861.5 L688.4,867.9 L689.8,871.1 L690.0,867.9 L691.6,848.6 L693.5,822.1 L695.1,848.6 L696.8,866.3 L698.4,867.9 L699.6,861.5 L700.9,853.5 L702.5,861.5 L704.5,876.0 L706.1,874.3 L707.7,884.0 L709.3,890.4 L710.9,887.2 L713.3,882.4 L714.9,887.2 L716.5,884.0 L718.6,866.3 L720.2,864.7 L721.8,852.6 L723.4,864.7 L725.4,880.8 L727.3,890.4 L728.6,891.7 L733.4,891.7 L735.0,880.8 L736.6,869.5 L737.9,862.3 L739.8,879.2 L741.8,849.4 L743.4,874.3 L745.0,884.0 L746.6,876.0 L748.2,875.1 L749.8,869.5 L751.4,862.3 L753.0,877.6 L754.3,887.2 L755.9,874.3 L757.2,866.3 L758.8,839.0 L760.4,806.8 L762.0,840.6 L763.6,867.9 L765.2,872.7 L766.8,880.8 L768.1,887.2 L769.6,879.2 L771.2,874.3 L772.8,876.0 L774.4,864.7 L776.0,852.6 L777.6,855.9 L779.2,864.7 L780.8,856.7 L782.4,833.4 L784.0,831.0 L786.1,825.3 L787.7,840.6 L789.3,864.7 L790.9,851.8 L793.7,841.4 L795.3,851.8 L796.9,866.3 L798.5,874.3 L800.1,880.8 L802.2,867.1 L803.8,880.8 L805.4,887.2 L807.3,862.3 L808.9,874.3 L810.9,876.0 L812.9,876.0 L814.6,867.9 L816.2,869.5 L818.2,848.6 L820.2,871.1 L821.8,877.6 L823.4,887.2 L825.0,874.3 L827.4,847.8 L829.0,861.5 L830.6,877.6 L832.2,880.8 L833.8,884.0 L835.4,890.4 L836.2,891.7 L841.9,891.7 L843.5,874.3 L844.6,855.1 L847.5,855.1 L849.1,864.7 L850.7,880.8 L852.3,880.0 L853.9,885.6 L855.2,891.7 L856.3,891.7 L857.5,874.3 L858.4,837.4 L859.6,790.0 L861.2,832.6 L862.8,838.2 L864.4,848.6 L866.0,858.3 L867.6,850.2 L869.2,848.6 L870.8,858.3 L872.4,874.3 L874.0,880.8 L875.6,871.1 L877.2,880.8 L878.8,880.8 L880.4,871.1 L882.1,874.3 L883.7,880.8 L885.3,864.7 L886.9,884.0 L888.0,891.7 L889.0,891.7 L890.6,882.4 L892.2,880.8 L893.8,885.6 L895.4,880.8 L897.0,879.2 L898.6,880.8 L900.2,861.5 L901.8,849.4 L903.8,856.7 L905.4,859.9 L907.3,867.9 L909.4,879.2 L911.0,872.7 L912.6,867.9 L914.8,861.5 L915.0,861.5 L916.6,879.2 L918.2,887.2 L920.1,877.6 L921.8,884.0 L923.4,891.7 L924.6,887.2 L926.2,871.1 L927.9,866.3 L929.1,848.6 L930.4,821.3 L932.0,848.6 L933.5,871.1 L935.1,869.5 L935.9,871.1 L937.5,825.3 L939.1,845.4 L940.7,869.5 L942.3,876.8 L943.9,874.3 L946.3,867.9 L947.9,880.8 L949.6,890.4 L951.2,867.9 L952.8,851.0 L954.4,858.3 L956.0,876.0 L957.6,891.7 L959.2,891.7 L960.3,884.0 L961.6,879.2 L962.9,884.0 L964.0,888.8 L965.6,884.8 L967.2,888.0 L968.8,884.8 L973.7,884.8 L975.3,867.9 L976.9,884.0 L978.5,887.2 L980.6,845.4 L982.2,858.3 L983.8,874.3 L985.4,871.1 L987.3,866.3 L988.9,880.8 L990.5,871.1 L992.5,859.1 L994.6,871.1 L996.2,878.4 L997.8,874.3 L998.6,871.1 L999.9,880.8 L1001.0,891.7 L1003.1,891.7 L1004.2,880.8 L1005.8,881.6 L1007.4,887.2 L1009.0,856.7 L1010.1,837.4 L1011.8,867.9 L1013.4,877.6 L1015.0,883.2 L1017.1,888.0 L1018.7,880.8 L1019.8,874.3 L1021.9,862.3 L1023.5,871.1 L1025.1,882.4 L1026.7,888.0 L1028.8,868.7 L1030.4,879.2 L1032.0,874.3 L1033.9,876.8 L1035.5,879.2 L1037.1,882.4 L1038.8,885.6 L1040.7,868.7 L1042.3,867.9 L1043.6,864.7 L1044.9,867.9 L1046.5,880.8 L1048.1,877.6 L1049.7,856.7 L1051.3,844.6 L1052.9,861.5 L1054.5,891.7 L1060.4,891.7 L1062.1,874.3 L1063.7,859.9 L1065.3,871.1 L1066.9,882.4 L1068.5,890.4 L1070.1,871.1 L1071.7,859.9 L1072.8,851.8 L1074.4,874.3 L1076.0,880.8 L1077.6,884.0 L1079.2,874.3 L1081.3,867.9 L1083.8,847.0 L1085.4,848.6 L1086.6,858.3 L1088.6,846.2 L1090.2,859.9 L1091.8,876.0 L1093.4,874.3 L1095.0,879.2 L1096.6,880.8 L1098.2,874.3 L1099.5,852.6 L1101.1,882.4 L1102.7,883.2 L1103.8,877.6 L1105.4,884.0 L1107.1,880.8 L1108.7,880.8 L1111.1,874.3 L1113.0,845.4 L1114.3,861.5 L1115.9,880.8 L1117.5,877.6 L1119.1,879.2 L1120.4,871.9 L1122.0,882.4 L1123.1,891.7 L1124.7,891.7 L1126.3,880.8 L1127.9,879.2 L1129.6,880.8 L1131.2,867.9 L1133.6,843.8 L1135.2,864.7 L1136.5,891.7 L1136.5,891.7 Z" fill="#B22222"/>
<path d="M244.5,1113.2 L244.5,1113.2 L245.1,1055.7 L246.4,1053.3 L247.7,1060.5 L248.8,1046.0 L250.4,1009.1 L252.1,1046.0 L253.2,1065.3 L254.5,1062.1 L255.6,1058.9 L256.9,1075.0 L258.0,1081.4 L259.6,1058.1 L260.9,1073.3 L262.5,1087.8 L264.1,1081.4 L265.7,1076.6 L267.3,1078.2 L268.9,1087.8 L269.7,1090.2 L271.3,1086.2 L272.9,1065.3 L274.1,1033.2 L275.7,1009.9 L277.3,1046.0 L278.6,1057.3 L280.2,1068.5 L281.5,1079.8 L282.6,1065.3 L283.7,1054.9 L285.3,1062.1 L286.6,1055.7 L288.2,1049.2 L289.8,1042.8 L291.1,1033.2 L292.4,1052.5 L293.7,1068.5 L295.0,1081.4 L296.6,1086.2 L298.2,1092.6 L299.5,1065.3 L300.8,1034.8 L302.4,1049.2 L304.0,1047.6 L305.6,1058.9 L307.2,1033.2 L308.8,1020.3 L310.1,1012.3 L311.5,1033.2 L313.1,1065.3 L314.7,1083.0 L316.3,1095.0 L317.5,1077.4 L319.1,1077.4 L320.4,1070.1 L321.6,1055.7 L323.2,1073.3 L324.9,1065.3 L326.5,1062.1 L328.1,1060.5 L329.2,1046.0 L330.5,1018.7 L331.9,1062.1 L333.2,1061.3 L334.8,1041.2 L336.4,1017.1 L338.0,999.4 L339.6,1017.1 L340.9,1033.2 L342.1,999.4 L343.7,1036.4 L345.3,1068.5 L346.4,1068.5 L347.7,1033.2 L349.0,1007.5 L350.6,1049.2 L351.5,1060.5 L352.5,1057.3 L354.1,1025.1 L355.4,1055.7 L356.8,1079.8 L358.1,1065.3 L359.4,1049.2 L360.9,1062.1 L362.1,1071.7 L363.8,1070.9 L365.0,1063.7 L366.6,1073.3 L367.8,1091.0 L369.4,1081.4 L370.5,1078.2 L371.8,1073.3 L373.1,1091.8 L374.2,1065.3 L375.3,1033.2 L376.9,994.6 L378.5,1049.2 L380.1,1070.9 L381.4,1055.7 L383.0,1036.4 L384.6,1023.5 L385.9,1016.3 L387.5,1018.7 L389.1,1034.8 L390.8,1025.9 L392.4,1042.8 L394.0,1057.3 L395.6,1078.2 L397.2,1092.6 L398.3,1076.6 L399.9,1075.0 L401.5,1065.3 L403.1,1066.9 L404.2,1060.5 L405.9,1033.2 L407.5,1003.4 L409.1,1033.2 L410.7,1065.3 L412.0,1081.4 L412.8,1054.1 L414.1,1054.9 L415.5,1096.6 L416.8,1075.0 L418.4,1060.5 L419.7,1073.3 L421.0,1079.8 L422.4,1066.9 L423.5,1065.3 L424.5,1073.3 L426.1,1047.6 L427.7,1030.0 L429.3,1023.5 L430.9,1020.3 L432.5,1030.0 L434.1,1046.0 L435.8,1066.9 L437.4,1057.3 L439.6,1018.7 L441.2,1046.0 L442.8,1065.3 L444.4,1073.3 L445.7,1081.4 L447.3,1062.1 L448.9,1042.8 L450.5,1038.0 L452.1,1047.6 L454.6,987.4 L456.2,1033.2 L457.8,1049.2 L459.4,1017.1 L460.7,981.7 L462.3,1010.7 L463.9,1033.2 L464.8,1034.8 L465.0,1038.0 L466.9,1049.2 L468.5,1065.3 L470.1,1081.4 L471.8,1085.4 L473.0,1073.3 L474.3,1049.2 L475.4,1035.6 L477.1,1039.6 L478.7,1049.2 L479.8,1052.5 L481.1,1030.0 L481.9,1021.9 L483.0,1023.5 L484.3,1042.8 L485.9,1065.3 L487.5,1075.0 L489.1,1079.8 L490.7,1087.8 L492.3,1065.3 L493.9,1033.2 L496.3,995.4 L497.9,1033.2 L499.1,1065.3 L500.4,1079.8 L501.6,1075.0 L503.2,1059.7 L504.9,1073.3 L506.5,1097.5 L508.1,1079.0 L509.7,1097.5 L511.6,1075.0 L512.9,1052.5 L514.2,1046.0 L515.6,1054.1 L516.8,1075.0 L518.4,1042.8 L520.4,1033.2 L522.1,1065.3 L523.2,1073.3 L524.5,1071.7 L525.8,1064.5 L528.5,1064.5 L530.1,1081.4 L531.7,1094.2 L532.8,1091.8 L534.4,1099.1 L535.7,1081.4 L537.3,1060.5 L538.9,1041.2 L540.5,1037.2 L541.8,1046.0 L543.4,1043.6 L545.0,1055.7 L546.6,1071.7 L547.8,1076.6 L549.4,1065.3 L551.0,1066.1 L552.6,1036.4 L553.7,1020.3 L555.3,1038.0 L557.4,1021.1 L559.0,1039.6 L560.1,1048.4 L561.4,1046.8 L563.0,1054.1 L564.6,1065.3 L565.9,1071.7 L567.5,1046.0 L569.1,1017.1 L570.8,991.4 L572.4,1025.1 L574.3,1062.1 L575.6,1054.1 L576.7,1034.8 L578.3,1049.2 L579.4,1060.5 L580.7,1049.2 L582.3,1055.7 L583.9,1046.0 L585.5,1039.6 L587.1,1046.0 L588.8,1058.9 L590.4,1065.3 L591.6,1060.5 L592.8,1073.3 L594.4,1092.6 L595.5,1075.0 L596.8,1065.3 L598.4,1049.2 L599.7,1034.8 L601.3,1036.4 L602.4,1046.0 L603.5,1034.8 L604.8,1049.2 L606.1,1057.3 L607.7,1042.8 L609.3,1038.0 L610.9,1065.3 L612.1,1081.4 L613.2,1073.3 L614.5,1057.3 L616.1,1042.8 L618.5,1024.3 L619.6,1047.6 L620.9,1070.1 L622.2,1068.5 L623.8,1049.2 L625.4,1025.1 L627.0,1009.1 L628.9,996.2 L630.2,1033.2 L631.3,1073.3 L632.5,1081.4 L634.1,1079.8 L635.7,1076.6 L637.0,1073.3 L638.6,1062.1 L640.2,1062.1 L641.5,1049.2 L642.6,1022.7 L644.2,1052.5 L645.8,1075.0 L647.4,1070.1 L649.0,1066.9 L650.6,1065.3 L652.2,1065.3 L654.3,1049.2 L655.9,1065.3 L657.5,1083.0 L659.5,1095.0 L661.1,1081.4 L662.7,1065.3 L664.3,1058.9 L665.9,1065.3 L667.2,1075.0 L668.3,1082.2 L669.9,1065.3 L671.5,1049.2 L673.1,1073.3 L674.7,1097.5 L676.3,1065.3 L677.9,1042.8 L679.1,1028.3 L680.7,1042.8 L682.3,1044.4 L683.9,1065.3 L685.2,1075.0 L686.8,1046.0 L688.4,1025.1 L689.8,1036.4 L690.0,1078.2 L692.4,1060.5 L694.0,1078.2 L695.6,1092.6 L697.2,1073.3 L698.8,1049.2 L700.0,1044.4 L701.2,1023.5 L702.5,1005.8 L704.1,1041.2 L705.3,1075.0 L706.9,1081.4 L708.5,1097.5 L709.6,1110.3 L710.9,1094.2 L712.5,1073.3 L714.1,1062.1 L715.4,1054.9 L717.0,1075.0 L718.6,1089.4 L720.2,1065.3 L721.5,1057.3 L722.9,1060.5 L724.1,1058.9 L725.7,1068.5 L727.3,1081.4 L729.4,1099.9 L731.0,1094.2 L732.1,1057.3 L733.4,1025.1 L735.0,1065.3 L736.3,1097.5 L737.4,1107.1 L739.0,1089.4 L740.6,1039.6 L742.2,1030.0 L743.8,1065.3 L745.0,1095.8 L746.2,1065.3 L748.2,1009.9 L749.8,1033.2 L751.4,1052.5 L753.0,1057.3 L754.6,1065.3 L755.9,1070.1 L757.5,1052.5 L759.4,1036.4 L761.5,1028.3 L763.1,1042.0 L765.1,1011.5 L766.8,1057.3 L768.1,1071.7 L770.4,1059.7 L772.0,1073.3 L773.2,1086.2 L775.2,1083.8 L777.3,1082.2 L778.4,1091.0 L779.7,1095.8 L781.3,1073.3 L782.9,1049.2 L784.8,1046.0 L786.4,1031.6 L788.0,1052.5 L789.6,1075.0 L791.2,1062.1 L793.7,1033.2 L796.9,1019.5 L799.0,1044.4 L800.9,1057.3 L802.2,1062.1 L803.8,1042.8 L805.4,1062.1 L807.0,1065.3 L808.6,1033.2 L810.9,994.6 L812.5,1033.2 L813.8,1073.3 L815.4,1065.3 L817.3,1054.9 L818.6,1058.9 L819.9,1070.1 L821.0,1052.5 L822.1,1041.2 L823.4,1065.3 L824.7,1070.1 L826.3,1062.1 L827.6,1065.3 L828.5,1079.8 L829.8,1071.7 L831.4,1058.9 L833.0,1081.4 L834.3,1089.4 L836.2,1081.4 L838.2,1072.5 L839.5,1074.1 L841.1,1065.3 L842.4,1006.6 L844.0,1033.2 L845.1,1070.1 L846.7,1062.1 L848.3,1055.7 L849.9,1054.1 L851.5,1001.0 L853.1,1025.1 L854.7,1033.2 L856.3,1047.6 L857.9,1062.1 L859.1,1058.9 L860.4,1042.8 L861.6,1034.0 L863.2,1057.3 L864.9,1063.7 L866.5,1042.8 L868.1,1025.1 L869.2,1013.9 L870.8,968.9 L872.4,927.1 L874.0,1017.1 L874.8,1036.4 L876.4,1033.2 L878.0,1065.3 L879.6,1100.7 L881.2,1092.6 L882.9,1094.2 L884.5,1091.0 L885.8,1081.4 L887.4,1054.1 L888.5,1039.6 L890.1,1065.3 L891.7,1063.7 L893.3,1076.6 L894.9,1078.2 L897.3,1088.6 L898.9,1065.3 L900.5,1036.4 L902.1,1049.2 L904.1,1031.6 L905.7,1049.2 L907.3,1042.8 L908.9,1031.6 L910.5,1021.1 L911.8,1033.2 L913.4,1058.9 L914.8,1057.3 L915.0,1057.3 L916.6,1060.5 L918.5,1058.9 L919.8,1049.2 L921.4,1014.7 L923.0,1017.9 L924.6,1023.5 L925.9,1057.3 L927.1,1079.8 L928.7,1091.8 L930.3,1065.3 L931.4,1062.1 L932.7,1058.9 L934.0,1033.2 L935.6,989.8 L937.2,1030.0 L938.8,1026.7 L939.9,1023.5 L941.5,1028.3 L943.1,1031.6 L944.4,1002.6 L945.9,1031.6 L947.1,1034.8 L948.8,1039.6 L950.4,1046.0 L952.3,1025.9 L953.9,1055.7 L955.2,1081.4 L956.5,1099.1 L957.6,1073.3 L958.7,1049.2 L960.3,1038.0 L961.6,1050.8 L963.2,1054.1 L964.8,1068.5 L966.1,1052.5 L967.7,1025.1 L969.3,1040.4 L970.9,1041.2 L972.5,1062.1 L973.7,1071.7 L975.8,1033.2 L977.4,1017.9 L979.0,1041.2 L980.6,1060.5 L982.2,1073.3 L983.8,1062.1 L985.4,1081.4 L987.0,1099.1 L988.6,1099.1 L990.2,1081.4 L992.1,1055.7 L993.8,1060.5 L995.4,1049.2 L996.6,1037.2 L998.2,1052.5 L999.9,1065.3 L1001.5,1084.6 L1002.6,1068.5 L1003.7,1048.4 L1005.8,1049.2 L1007.4,1065.3 L1009.0,1033.2 L1010.6,1013.9 L1012.2,994.6 L1013.8,1009.1 L1015.4,997.0 L1017.1,1021.9 L1018.7,1044.4 L1021.1,1044.4 L1022.4,1036.4 L1024.0,1057.3 L1025.6,1068.5 L1027.5,1050.0 L1029.1,1073.3 L1030.4,1092.6 L1032.0,1065.3 L1033.6,1058.9 L1034.7,1054.1 L1036.3,1062.1 L1038.4,1049.2 L1040.0,1036.4 L1041.6,1030.0 L1043.2,1046.0 L1044.9,1065.3 L1046.0,1073.3 L1047.1,1075.0 L1048.4,1057.3 L1050.0,1033.2 L1051.6,1025.1 L1053.2,1036.4 L1054.8,1057.3 L1056.4,1041.2 L1058.8,1028.3 L1060.4,1057.3 L1062.1,1084.6 L1063.7,1049.2 L1065.3,1010.7 L1066.4,1005.8 L1067.7,1020.3 L1069.0,1058.9 L1070.6,1089.4 L1072.2,1091.0 L1073.8,1065.3 L1075.4,1036.4 L1077.0,1054.1 L1078.6,1044.4 L1080.2,1065.3 L1081.8,1095.8 L1083.4,1073.3 L1085.0,1073.3 L1086.6,1091.0 L1088.2,1095.0 L1089.9,1065.3 L1091.5,1060.5 L1093.1,1065.3 L1094.7,1071.7 L1096.3,1065.3 L1097.9,1052.5 L1099.0,1065.3 L1100.6,1095.8 L1102.2,1057.3 L1103.8,1004.2 L1105.0,1002.6 L1106.6,961.6 L1107.9,1001.0 L1109.5,1066.9 L1111.1,1065.3 L1113.0,1042.8 L1114.3,1062.1 L1115.9,1062.1 L1117.8,1050.8 L1119.4,1052.5 L1121.0,1055.7 L1122.6,1062.1 L1123.9,1071.7 L1125.5,1049.2 L1127.5,1027.5 L1129.1,1030.0 L1130.4,1052.5 L1132.0,1075.0 L1133.6,1070.1 L1135.2,1068.5 L1136.5,1113.2 L1136.5,1113.2 Z" fill="#000000"/>
<line x1="110.7" y1="1160.6" x2="110.7" y2="1297" stroke="#000" stroke-width="2.9"/>
<line x1="198.6" y1="1297.5" x2="1182" y2="1297.5" stroke="#000" stroke-width="2.9"/>
<line x1="381.3" y1="1297.5" x2="381.3" y2="1304.5" stroke="#333" stroke-width="2.7"/>
<text x="381.3" y="1329.1" class="xt" text-anchor="middle" textLength="139.3" lengthAdjust="spacingAndGlyphs">105300000</text>
<line x1="677.0" y1="1297.5" x2="677.0" y2="1304.5" stroke="#333" stroke-width="2.7"/>
<text x="677.0" y="1329.1" class="xt" text-anchor="middle" textLength="139.3" lengthAdjust="spacingAndGlyphs">105320000</text>
<line x1="972.7" y1="1297.5" x2="972.7" y2="1304.5" stroke="#333" stroke-width="2.7"/>
<text x="972.7" y="1329.1" class="xt" text-anchor="middle" textLength="139.3" lengthAdjust="spacingAndGlyphs">105340000</text>
<line x1="272.7" y1="1266.4" x2="1137.3" y2="1266.4" stroke="#00008B" stroke-width="2.8"/>
<polyline points="267.5,1260.9 272.5,1266.4 267.5,1271.9" fill="none" stroke="#00008B" stroke-width="2.9"/>
<polyline points="285.4,1260.9 290.4,1266.4 285.4,1271.9" fill="none" stroke="#00008B" stroke-width="2.9"/>
<polyline points="303.3,1260.9 308.3,1266.4 303.3,1271.9" fill="none" stroke="#00008B" stroke-width="2.9"/>
<polyline points="321.2,1260.9 326.2,1266.4 321.2,1271.9" fill="none" stroke="#00008B" stroke-width="2.9"/>
<polyline points="339.1,1260.9 344.1,1266.4 339.1,1271.9" fill="none" stroke="#00008B" stroke-width="2.9"/>
<polyline points="357.0,1260.9 362.0,1266.4 357.0,1271.9" fill="none" stroke="#00008B" stroke-width="2.9"/>
<polyline points="374.9,1260.9 379.9,1266.4 374.9,1271.9" fill="none" stroke="#00008B" stroke-width="2.9"/>
<polyline points="392.8,1260.9 397.8,1266.4 392.8,1271.9" fill="none" stroke="#00008B" stroke-width="2.9"/>
<polyline points="410.7,1260.9 415.7,1266.4 410.7,1271.9" fill="none" stroke="#00008B" stroke-width="2.9"/>
<polyline points="428.6,1260.9 433.6,1266.4 428.6,1271.9" fill="none" stroke="#00008B" stroke-width="2.9"/>
<polyline points="446.5,1260.9 451.5,1266.4 446.5,1271.9" fill="none" stroke="#00008B" stroke-width="2.9"/>
<polyline points="464.4,1260.9 469.4,1266.4 464.4,1271.9" fill="none" stroke="#00008B" stroke-width="2.9"/>
<polyline points="482.3,1260.9 487.3,1266.4 482.3,1271.9" fill="none" stroke="#00008B" stroke-width="2.9"/>
<polyline points="500.2,1260.9 505.2,1266.4 500.2,1271.9" fill="none" stroke="#00008B" stroke-width="2.9"/>
<polyline points="518.1,1260.9 523.1,1266.4 518.1,1271.9" fill="none" stroke="#00008B" stroke-width="2.9"/>
<polyline points="536.0,1260.9 541.0,1266.4 536.0,1271.9" fill="none" stroke="#00008B" stroke-width="2.9"/>
<polyline points="553.9,1260.9 558.9,1266.4 553.9,1271.9" fill="none" stroke="#00008B" stroke-width="2.9"/>
<polyline points="571.8,1260.9 576.8,1266.4 571.8,1271.9" fill="none" stroke="#00008B" stroke-width="2.9"/>
<polyline points="589.7,1260.9 594.7,1266.4 589.7,1271.9" fill="none" stroke="#00008B" stroke-width="2.9"/>
<polyline points="607.6,1260.9 612.6,1266.4 607.6,1271.9" fill="none" stroke="#00008B" stroke-width="2.9"/>
<polyline points="625.5,1260.9 630.5,1266.4 625.5,1271.9" fill="none" stroke="#00008B" stroke-width="2.9"/>
<polyline points="643.4,1260.9 648.4,1266.4 643.4,1271.9" fill="none" stroke="#00008B" stroke-width="2.9"/>
<polyline points="661.3,1260.9 666.3,1266.4 661.3,1271.9" fill="none" stroke="#00008B" stroke-width="2.9"/>
<polyline points="679.2,1260.9 684.2,1266.4 679.2,1271.9" fill="none" stroke="#00008B" stroke-width="2.9"/>
<polyline points="697.1,1260.9 702.1,1266.4 697.1,1271.9" fill="none" stroke="#00008B" stroke-width="2.9"/>
<polyline points="715.0,1260.9 720.0,1266.4 715.0,1271.9" fill="none" stroke="#00008B" stroke-width="2.9"/>
<polyline points="732.9,1260.9 737.9,1266.4 732.9,1271.9" fill="none" stroke="#00008B" stroke-width="2.9"/>
<polyline points="750.8,1260.9 755.8,1266.4 750.8,1271.9" fill="none" stroke="#00008B" stroke-width="2.9"/>
<polyline points="768.7,1260.9 773.7,1266.4 768.7,1271.9" fill="none" stroke="#00008B" stroke-width="2.9"/>
<polyline points="786.6,1260.9 791.6,1266.4 786.6,1271.9" fill="none" stroke="#00008B" stroke-width="2.9"/>
<polyline points="804.5,1260.9 809.5,1266.4 804.5,1271.9" fill="none" stroke="#00008B" stroke-width="2.9"/>
<polyline points="822.4,1260.9 827.4,1266.4 822.4,1271.9" fill="none" stroke="#00008B" stroke-width="2.9"/>
<polyline points="840.3,1260.9 845.3,1266.4 840.3,1271.9" fill="none" stroke="#00008B" stroke-width="2.9"/>
<polyline points="858.2,1260.9 863.2,1266.4 858.2,1271.9" fill="none" stroke="#00008B" stroke-width="2.9"/>
<polyline points="876.1,1260.9 881.1,1266.4 876.1,1271.9" fill="none" stroke="#00008B" stroke-width="2.9"/>
<polyline points="894.0,1260.9 899.0,1266.4 894.0,1271.9" fill="none" stroke="#00008B" stroke-width="2.9"/>
<polyline points="911.9,1260.9 916.9,1266.4 911.9,1271.9" fill="none" stroke="#00008B" stroke-width="2.9"/>
<polyline points="929.8,1260.9 934.8,1266.4 929.8,1271.9" fill="none" stroke="#00008B" stroke-width="2.9"/>
<polyline points="947.7,1260.9 952.7,1266.4 947.7,1271.9" fill="none" stroke="#00008B" stroke-width="2.9"/>
<polyline points="965.6,1260.9 970.6,1266.4 965.6,1271.9" fill="none" stroke="#00008B" stroke-width="2.9"/>
<polyline points="983.5,1260.9 988.5,1266.4 983.5,1271.9" fill="none" stroke="#00008B" stroke-width="2.9"/>
<polyline points="1001.4,1260.9 1006.4,1266.4 1001.4,1271.9" fill="none" stroke="#00008B" stroke-width="2.9"/>
<polyline points="1019.3,1260.9 1024.3,1266.4 1019.3,1271.9" fill="none" stroke="#00008B" stroke-width="2.9"/>
<polyline points="1037.2,1260.9 1042.2,1266.4 1037.2,1271.9" fill="none" stroke="#00008B" stroke-width="2.9"/>
<polyline points="1055.1,1260.9 1060.1,1266.4 1055.1,1271.9" fill="none" stroke="#00008B" stroke-width="2.9"/>
<polyline points="1073.0,1260.9 1078.0,1266.4 1073.0,1271.9" fill="none" stroke="#00008B" stroke-width="2.9"/>
<polyline points="1090.9,1260.9 1095.9,1266.4 1090.9,1271.9" fill="none" stroke="#00008B" stroke-width="2.9"/>
<polyline points="1108.8,1260.9 1113.8,1266.4 1108.8,1271.9" fill="none" stroke="#00008B" stroke-width="2.9"/>
<polyline points="1126.7,1260.9 1131.7,1266.4 1126.7,1271.9" fill="none" stroke="#00008B" stroke-width="2.9"/>
<polyline points="1132.5,1260.9 1137.5,1266.4 1132.5,1271.9" fill="none" stroke="#00008B" stroke-width="2.9"/>
<rect x="272.7" y="1257.5" width="4.3" height="18" fill="#00008B"/>
<rect x="758.3" y="1257.5" width="6.2" height="18" fill="#00008B"/>
<rect x="776.3" y="1257.5" width="2.3" height="18" fill="#00008B"/>
<rect x="795.1" y="1257.5" width="2.6" height="18" fill="#00008B"/>
<rect x="799.4" y="1257.5" width="2.3" height="18" fill="#00008B"/>
<rect x="804.9" y="1257.5" width="2.0" height="18" fill="#00008B"/>
<rect x="811.1" y="1257.5" width="4.6" height="18" fill="#00008B"/>
<rect x="852.9" y="1257.5" width="3.1" height="18" fill="#00008B"/>
<rect x="858.3" y="1257.5" width="2.3" height="18" fill="#00008B"/>
<rect x="877.7" y="1257.5" width="2.3" height="18" fill="#00008B"/>
<rect x="915.8" y="1257.5" width="1.9" height="18" fill="#00008B"/>
<rect x="922.9" y="1257.5" width="2.0" height="18" fill="#00008B"/>
<rect x="937.7" y="1257.5" width="3.2" height="18" fill="#00008B"/>
<rect x="955.1" y="1257.5" width="1.8" height="18" fill="#00008B"/>
<rect x="976.0" y="1257.5" width="2.0" height="18" fill="#00008B"/>
<rect x="980.9" y="1257.5" width="2.0" height="18" fill="#00008B"/>
<rect x="984.0" y="1257.5" width="8.3" height="18" fill="#00008B"/>
<rect x="1018.3" y="1257.5" width="1.7" height="18" fill="#00008B"/>
<rect x="1024.0" y="1257.5" width="5.7" height="18" fill="#00008B"/>
<rect x="1064.8" y="1257.5" width="1.1" height="18" fill="#00008B"/>
<rect x="1066.7" y="1257.5" width="1.2" height="18" fill="#00008B"/>
<rect x="1068.3" y="1257.5" width="1.6" height="18" fill="#00008B"/>
<rect x="1071.8" y="1257.5" width="1.6" height="18" fill="#00008B"/>
<rect x="1080.0" y="1257.5" width="1.6" height="18" fill="#00008B"/>
<rect x="1082.8" y="1257.5" width="1.6" height="18" fill="#00008B"/>
<rect x="1086.0" y="1257.5" width="1.1" height="18" fill="#00008B"/>
<rect x="1089.1" y="1257.5" width="2.0" height="18" fill="#00008B"/>
<rect x="1095.0" y="1257.5" width="2.0" height="18" fill="#00008B"/>
<rect x="1100.1" y="1257.5" width="2.4" height="18" fill="#00008B"/>
<rect x="1114.1" y="1257.5" width="0.5" height="18" fill="#00008B"/>
<rect x="1116.3" y="1257.5" width="21.0" height="18" fill="#00008B"/>
<text x="705" y="1223.8" class="gn" text-anchor="middle" textLength="46.5" lengthAdjust="spacingAndGlyphs">Mrc2</text>
<text transform="translate(51.6,576.8) rotate(-90)" class="at" text-anchor="middle" textLength="102.5" lengthAdjust="spacingAndGlyphs">bigWig</text>
<text transform="translate(52.2,1229.6) rotate(-90)" class="at" text-anchor="middle" textLength="96.5" lengthAdjust="spacingAndGlyphs">Genes</text>
<text x="690" y="1363.5" class="at" text-anchor="middle" textLength="290.0" lengthAdjust="spacingAndGlyphs">chr11 position (bp)</text>
<text x="1228.5" y="459.8" class="lt" textLength="40.5" lengthAdjust="spacingAndGlyphs">bw</text>
<rect x="1230" y="479.8" width="44.2" height="43.8" fill="#BEBEBE"/>
<text x="1291.0" y="510.7" class="ll" textLength="53.0" lengthAdjust="spacingAndGlyphs">WT1</text>
<rect x="1230" y="527.9" width="44.2" height="43.8" fill="#BEBEBE"/>
<text x="1291.0" y="558.8" class="ll" textLength="53.0" lengthAdjust="spacingAndGlyphs">WT2</text>
<rect x="1230" y="575.9" width="44.2" height="43.8" fill="#B22222"/>
<text x="1291.0" y="606.8" class="ll" textLength="48.5" lengthAdjust="spacingAndGlyphs">KO1</text>
<rect x="1230" y="624.0" width="44.2" height="43.8" fill="#B22222"/>
<text x="1291.0" y="654.9" class="ll" textLength="48.5" lengthAdjust="spacingAndGlyphs">KO2</text>
<rect x="1230" y="672.0" width="44.2" height="43.8" fill="#000000"/>
<text x="1289.8" y="702.9" class="ll" textLength="64.0" lengthAdjust="spacingAndGlyphs">Input</text>
</svg>
</body></html>
